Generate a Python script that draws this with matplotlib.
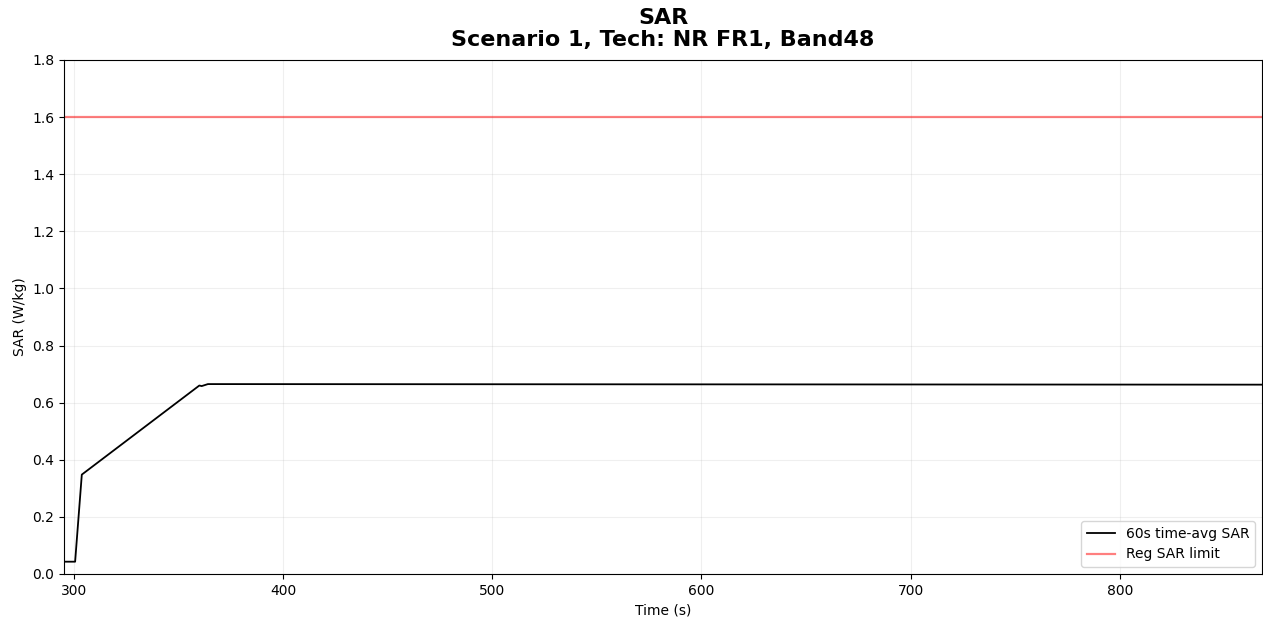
import matplotlib
matplotlib.use("Agg")
import matplotlib.pyplot as plt

# 60s time-averaged SAR trace
time_s = [295.2, 300.5, 303.7, 359.9, 361.0, 364.0, 868.0]
sar_avg = [0.043, 0.043, 0.348, 0.660, 0.658, 0.665, 0.663]

# regulatory limit
sar_limit = 1.6
x_range = [295.2, 868.0]

titulo = "SAR\nScenario 1, Tech: NR FR1, Band48"

fig = plt.figure(figsize=(12.63, 6.23), dpi=100)
ax = fig.add_axes([0.0507, 0.0787, 0.9485, 0.825])

ax.plot(time_s, sar_avg, color="black", linewidth=1.3, label="60s time-avg SAR")
ax.plot(x_range, [sar_limit, sar_limit], color="red", alpha=0.5, linewidth=1.6, label="Reg SAR limit")

ax.set_xlim(x_range)
ax.set_ylim(0, 1.8)
ax.set_yticks([0.0, 0.2, 0.4, 0.6, 0.8, 1.0, 1.2, 1.4, 1.6, 1.8])
ax.grid(True, alpha=0.2)

ax.set_xlabel("Time (s)")
ax.set_ylabel("SAR (W/kg)")
ax.set_title(titulo, fontsize=16, fontweight="bold", pad=10, linespacing=1.15)
ax.legend(loc="lower right")

fig.savefig("out.png", dpi=100)
